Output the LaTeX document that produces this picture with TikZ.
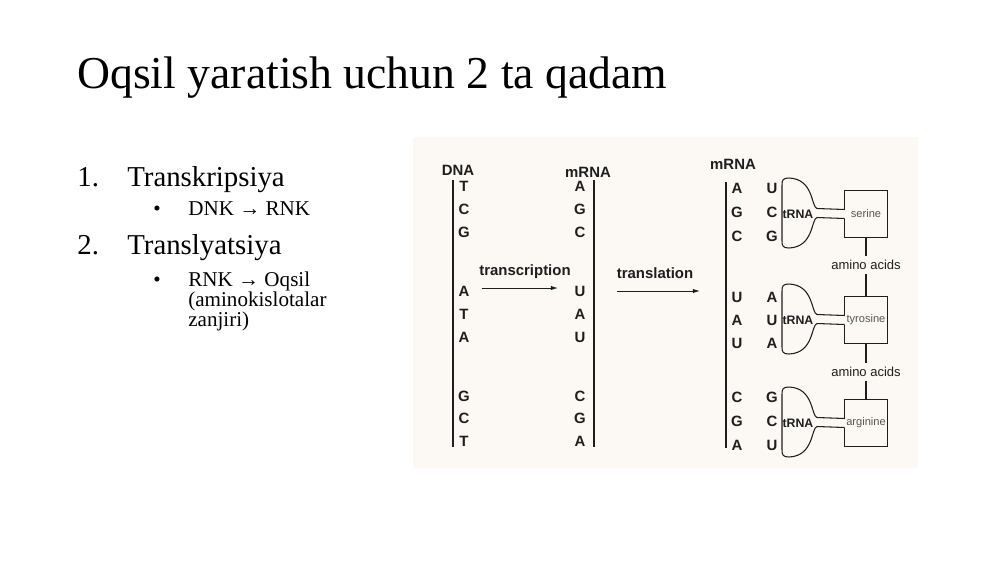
\documentclass[tikz,border=0pt]{standalone}
\usepackage{fontspec}
\setmainfont{Liberation Serif}
\setsansfont{Liberation Sans}
\usepackage{tikz}
\usetikzlibrary{arrows.meta}

\definecolor{paper}{HTML}{FCF9F4}
\definecolor{ink}{HTML}{1E1E1E}
\definecolor{aagray}{HTML}{555555}

\tikzset{
  base/.style={font=\sffamily\bfseries\fontsize{8.5}{10}\selectfont, text=ink, inner sep=1pt},
  strand/.style={draw=ink, line width=0.8pt},
  thin/.style={draw=ink, line width=0.6pt},
  arr/.style={draw=ink, line width=0.5pt, -{Latex[length=4pt,width=2.4pt]}},
  aminobox/.style={minimum width=0.84cm, minimum height=0.92cm, inner sep=0pt,
    font=\sffamily\fontsize{6.3}{7}\selectfont, text=aagray},
  aminolbl/.style={font=\sffamily\fontsize{7.4}{9}\selectfont, text=ink, inner sep=2pt},
  slide/.style={anchor=base west, text=black, inner sep=0pt},
}

\begin{document}
\begin{tikzpicture}[x=0.02cm, y=-0.02cm]
\useasboundingbox (0,0) rectangle (1000,562);
\fill[white] (0,0) rectangle (1000,562);
\fill[paper] (413,137) rectangle (918,468);

% slide text
\node[slide, font=\fontsize{26}{30}\selectfont] (title) at (77,88) {Oqsil yaratish uchun 2 ta qadam};
\node[slide, font=\fontsize{16.4}{20}\selectfont] (n1) at (77,186) {1.};
\node[slide, font=\fontsize{16.4}{20}\selectfont] (s1) at (127,186) {Transkripsiya};
\node[slide, font=\fontsize{12}{14}\selectfont] (b1) at (153,215) {•};
\node[slide, font=\fontsize{12}{14}\selectfont] (t1) at (188,215) {DNK → RNK};
\node[slide, font=\fontsize{16.4}{20}\selectfont] (n2) at (77,254) {2.};
\node[slide, font=\fontsize{16.4}{20}\selectfont] (s2) at (127,254) {Translyatsiya};
\node[slide, font=\fontsize{12}{14}\selectfont] (b2) at (153,286) {•};
\node[slide, font=\fontsize{12}{14}\selectfont] (t2) at (188,286) {RNK → Oqsil};
\node[slide, font=\fontsize{12}{14}\selectfont] (t3) at (188,306) {(aminokislotalar};
\node[slide, font=\fontsize{12}{14}\selectfont] (t4) at (188,326) {zanjiri)};

% DNA and mRNA strands
\node[base] (dna) at (458,170) {DNA};
\node[base] (mrna) at (588,172) {mRNA};
\coordinate (dnatop) at (453,180);
\coordinate (dnabot) at (453,447);
\coordinate (mrnatop) at (594,180);
\coordinate (mrnabot) at (594,447);
\draw[strand] (dnatop) -- (dnabot);
\draw[strand] (mrnatop) -- (mrnabot);
\foreach \d/\m/\y [count=\i] in {T/A/186, C/G/209, G/C/232, A/U/291, T/A/314, A/U/337, G/C/396, C/G/418, T/A/441}{
  \node[base] (d\i) at (464,\y) {\d};
  \node[base] (m\i) at (580,\y) {\m};
}

% transcription / translation
\node[base] (trs) at (525,272) {transcription};
\coordinate (trsA) at (482,288);
\coordinate (trsB) at (558,288);
\draw[arr] (trsA) -- (trsB);
\node[base] (trl) at (655,273) {translation};
\coordinate (trlA) at (617,291);
\coordinate (trlB) at (700,291);
\draw[arr] (trlA) -- (trlB);

% mRNA with tRNAs
\node[base] (mrna2) at (733,164) {mRNA};
\coordinate (rtop) at (726,182);
\coordinate (rbot) at (726,448);
\draw[strand] (rtop) -- (rbot);
\foreach \m/\t/\y [count=\i] in {A/U/188, G/C/212, C/G/236, U/A/297, A/U/320, U/A/343, C/G/397, G/C/421, A/U/445}{
  \node[base] (c\i) at (737,\y) {\m};
  \node[base] (a\i) at (772,\y) {\t};
}

\foreach \c/\aa/\i in {213/serine/1, 319/tyrosine/2, 422/arginine/3}{
  \node[base, font=\sffamily\bfseries\fontsize{7}{8}\selectfont] (t\i) at (798,\c+1) {tRNA};
  \node[aminobox] (aa\i) at (866,\c+1) {\aa};
  % tRNA body
  \draw[thin] (817,\c-4.5) .. controls (811,\c-6) and (814,\c-34) .. (789,\c-35)
     .. controls (783,\c-35) and (782,\c-33) .. (782,\c-28)
     -- (782,\c+28)
     .. controls (782,\c+33) and (783,\c+35) .. (789,\c+35)
     .. controls (814,\c+34) and (811,\c+6) .. (817,\c+4.5);
  % stem
  \draw[thin] (817,\c-4.5) -- ([yshift=0.09cm]aa\i.west);
  \draw[thin] (817,\c+4.5) -- ([yshift=-0.09cm]aa\i.west);
  % open box
  \draw[thin] ([yshift=0.09cm]aa\i.west) -- (aa\i.north west) -- (aa\i.north east)
     -- (aa\i.south east) -- (aa\i.south west) -- ([yshift=-0.09cm]aa\i.west);
}

\node[aminolbl] (am1) at (866,265) {amino acids};
\node[aminolbl] (am2) at (866,372) {amino acids};
\draw[thin] (aa1.south) -- (am1.north);
\draw[thin] (am1.south) -- (aa2.north);
\draw[thin] (aa2.south) -- (am2.north);
\draw[thin] (am2.south) -- (aa3.north);
\end{tikzpicture}
\end{document}
